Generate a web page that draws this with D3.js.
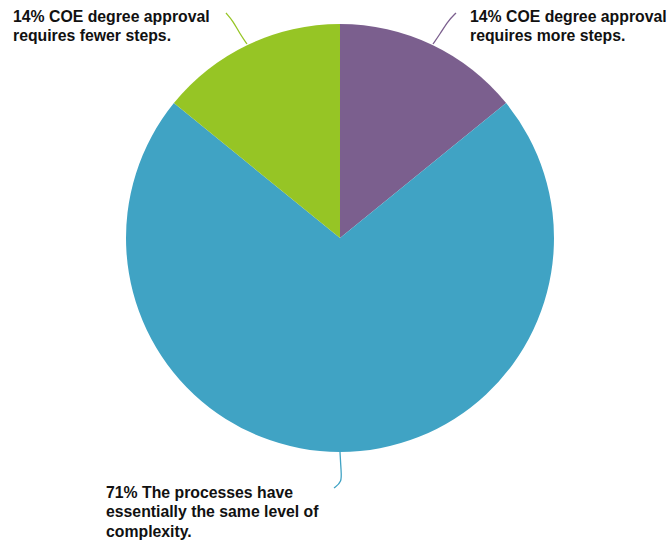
<!DOCTYPE html>
<html><head><meta charset="utf-8">
<script src="https://cdn.jsdelivr.net/npm/d3@7"></script>
<style>body{margin:0;background:#fff}svg{display:block}</style>
</head><body>
<svg id="c" width="671" height="546"></svg>
<script>
const categories = ["more", "same", "fewer"];
const values = [14, 71, 14];
const colors = ["#7B5F8E", "#40A3C4", "#96C525"];
const labels = [
  ["14% COE degree approval", "requires more steps."],
  ["71% The processes have", "essentially the same level of", "complexity."],
  ["14% COE degree approval", "requires fewer steps."]
];

const svg = d3.select("#c");
const cx = 340, cy = 238, R = 214;
const g = svg.append("g").attr("transform", `translate(${cx},${cy})`);
const pie = d3.pie().sort(null).value(d => d)(values);
const arc = d3.arc().innerRadius(0).outerRadius(R);
g.selectAll("path.s").data(pie).join("path").attr("class","s")
  .attr("d", arc).attr("fill", (d,i) => colors[i]);

const line = d3.line().curve(d3.curveBasis);
pie.forEach((d,i) => {
  let pts;
  if (i === 1) pts = [[0,214],[1,232],[2,244],[-6,250]];
  else if (i === 0) pts = [[93,-194],[100,-204],[108,-217],[116,-225]];
  else pts = [[-93,-194],[-100,-204],[-107,-217],[-114,-225]];
  g.append("path").attr("d", line(pts)).attr("fill","none")
   .attr("stroke", colors[i]).attr("stroke-width", 1.3);
});

const pos = [[470,22],[106,498],[13,22]];
labels.forEach((ls,i) => {
  const t = svg.append("text").attr("x", pos[i][0]).attr("y", pos[i][1])
    .attr("font-family","Liberation Sans, Arial, sans-serif")
    .attr("font-weight","bold").attr("font-size",15.8).attr("fill","#111");
  ls.forEach((s,j) => t.append("tspan").attr("x", pos[i][0]).attr("dy", j ? 19.3 : 0).text(s));
});
</script>
</body></html>
